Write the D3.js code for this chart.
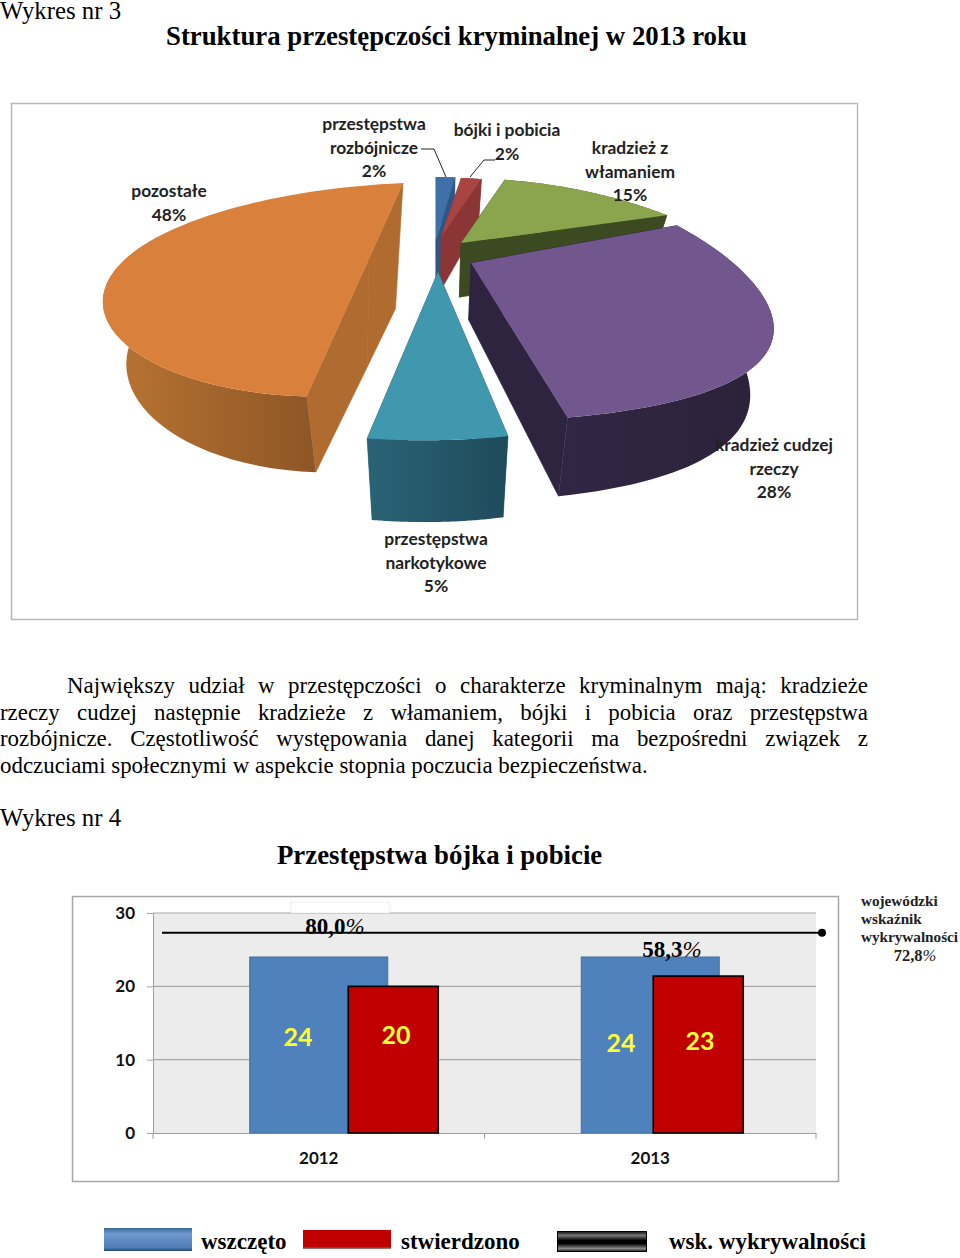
<!DOCTYPE html>
<html><head><meta charset="utf-8">
<style>html,body{margin:0;padding:0;background:#fff}svg{display:block}</style>
<script src="https://cdn.jsdelivr.net/npm/d3@7/dist/d3.min.js"></script>
</head><body><script>
// ---- data ----
const sliceNames = [["przestępstwa","rozbójnicze","2%"],["bójki i pobicia","2%"],["kradzież z","włamaniem","15%"],["kradzież cudzej","rzeczy","28%"],["przestępstwa","narkotykowe","5%"],["pozostałe","48%"]];
const sliceValues = [2,2,15,28,5,48];
const topColors = ["#3f70a8","#a94442","#8aa54e","#72578f","#4098af","#d9813c"];
const wallCut   = ["#2f5785","#8a3636","#3c4a22","#2e2440","#2a6579","#b06b30"];
const wallLeft  = ["#2f5785","#8a3636","#3c4a22","#312745","#2a6376","#bb7533"];
const wallRight = ["#2f5785","#8a3636","#3c4a22","#2b2138","#1f4b5b","#8d5626"];
const categories = ["2012","2013"];
const wszczeto = [24,24];
const stwierdzono = [20,21.4];
const wszczetoLabels = ["24","24"];
const stwierdzonoLabels = ["20","23"];
const wykrywalnosc = ["80,0","58,3"];
const wojewodzki = 27.3;
const yTicks = [0,10,20,30];
const bodyLines = [
 "Największy udział w przestępczości o charakterze kryminalnym mają: kradzieże",
 "rzeczy cudzej następnie kradzieże z włamaniem, bójki i pobicia oraz przestępstwa",
 "rozbójnicze. Częstotliwość występowania danej kategorii ma bezpośredni związek z",
 "odczuciami społecznymi w aspekcie stopnia poczucia bezpieczeństwa."];
const legendNames = ["wszczęto","stwierdzono","wsk. wykrywalności"];

// ---- layout ----
const W=960,H=1258;
const SERIF='"Liberation Serif",serif', SANS='Lato,Carlito,sans-serif';
const svg=d3.select("body").append("svg").attr("width",W).attr("height",H).attr("viewBox",`0 0 ${W} ${H}`);
const defs=svg.append("defs");
function grad(id,stops,x2=1,y2=0){const g=defs.append("linearGradient").attr("id",id).attr("x1",0).attr("y1",0).attr("x2",x2).attr("y2",y2);
 stops.forEach(([o,c])=>g.append("stop").attr("offset",o).attr("stop-color",c));return `url(#${id})`;}
function txt(s,x,y,size,opt={}){return svg.append("text").attr("x",x).attr("y",y).attr("font-family",opt.font||SERIF).attr("font-size",size)
 .attr("font-weight",opt.weight||"normal").attr("text-anchor",opt.anchor||"start").attr("fill",opt.fill||"#000").text(s);}
function pct(s,x,y,size,fill){const t=txt(s,x,y,size,{anchor:"middle",weight:"bold",fill});
 t.append("tspan").attr("font-weight","normal").attr("font-style","italic").text("%");return t;}

txt("Wykres nr 3",0,18.5,24.8);
txt("Struktura przestępczości kryminalnej w 2013 roku",166,45,26.8,{weight:"bold"});
svg.append("rect").attr("x",11.5).attr("y",103.5).attr("width",846).attr("height",516).attr("fill","#fff").attr("stroke","#b8b8b8").attr("stroke-width",1.5);

// ---- pie ----
const pieAngles=d3.pie().sort(null).value(d=>d)(sliceValues);
//            blue red  green purple teal orange
const cxs   =[436,441,461,471,438,383.6];
const cys   =[240,237,243,263,272,258.8];
const apexX =[436,441,461,471,438,369];
const aa    =[1,1.06,1.15,1.15,1,1.178];
const bb    =[0,0,0,0,-0.0876,-0.216];
const cc    =[0,0,0,0,0,-0.0495];
const dd    =[0.7,0.66,0.72,0.97,1.03,0.842];
const pxs   =[0.5,0.5,0.5,0.5,0.5,0.2];
const tilts =[0,0,0,0,0,0.375];
const rimFrac=[1,1,1,1,1,0.6];
const VX=438;
function proj(i,t){const u=Math.sin(t),v=Math.cos(t);
 const X=228*u/(1+pxs[i]*v), Y=-116*v/(1+0.29*v);
 return [cxs[i]+aa[i]*X+bb[i]*Y, cys[i]+cc[i]*X+dd[i]*Y];}
function down(p,tilt=0){const [x,y]=p;const e=tilt*(396-y);
 return [VX+(x-VX)*0.93-e*0.125, y+57+0.14*(y-263)+e];}
const lineGen=d3.line().curve(d3.curveLinear);
const pieG=svg.append("g");
pieAngles.forEach((a,i)=>{
 const ts=d3.range(0,61).map(k=>a.startAngle+(a.endAngle-a.startAngle)*k/60);
 const rim=ts.map(t=>proj(i,t));
 const c=[apexX[i],cys[i]];
 const fillWall=grad("wall"+i,[[0,wallLeft[i]],[1,wallRight[i]]]);
 const s=rim[0],e=rim[rim.length-1],T=tilts[i];
 [s,e].forEach(p=>pieG.append("path").attr("d",lineGen([c,p,down(p,T),down(c,T)])+"Z").attr("fill",wallCut[i]).attr("stroke",wallCut[i]).attr("stroke-width",0.6));
 const wallRim=rim.slice(0,Math.round(60*rimFrac[i])+1);
 pieG.append("path").attr("d",lineGen(wallRim.concat(wallRim.map(p=>down(p)).reverse()))+"Z").attr("fill",fillWall);
 pieG.append("path").attr("d",lineGen([c].concat(rim))+"Z").attr("fill",topColors[i]);
});
// pie labels
const labelX=[374,507,630,774,436,169];
const labelY=[130,136,154,451,545,197];
sliceNames.forEach((ls,i)=>ls.forEach((l,j)=>txt(l,labelX[i],labelY[i]+j*23.5,17.4,{font:SANS,weight:"bold",anchor:"middle",fill:"#222"})));
svg.append("path").attr("d","M421 149H434L446 177").attr("fill","none").attr("stroke","#222").attr("stroke-width",1);
svg.append("path").attr("d","M495 160H484L470 177").attr("fill","none").attr("stroke","#222").attr("stroke-width",1);

// ---- body ----
const bodyY=[693,720,746,773],bodyL=[67,0,0,0],bodyR=[868,868,868,null];
bodyLines.forEach((l,i)=>{const t=txt(l,bodyL[i],bodyY[i],22.9);
 if(bodyR[i]){const n=l.split(" ").length-1,len=t.node().getComputedTextLength();t.attr("word-spacing",(bodyR[i]-bodyL[i]-len)/n);}});
txt("Wykres nr 4",0,826,24.8);
txt("Przestępstwa bójka i pobicie",277,864,26.8,{weight:"bold"});

// ---- bars ----
svg.append("rect").attr("x",72.5).attr("y",896.5).attr("width",766).attr("height",285).attr("fill","#fff").attr("stroke","#a6a6a6").attr("stroke-width",1.5);
const x=d3.scaleBand().domain(categories).range([153,816]);
const y=d3.scaleLinear().domain([0,30]).range([1133,913]);
svg.append("rect").attr("x",153).attr("y",y(30)).attr("width",663).attr("height",y(0)-y(30)).attr("fill","#ececec");
const axY=svg.append("g").attr("transform","translate(153,0)").call(d3.axisLeft(y).tickValues(yTicks).tickSize(6).tickPadding(12));
axY.selectAll("text").attr("font-family",SANS).attr("font-weight","bold").attr("font-size",17).attr("fill","#111");
axY.selectAll(".tick line").attr("stroke","#a0a0a0");axY.select(".domain").attr("stroke","#a0a0a0");
svg.append("g").selectAll("line").data(yTicks.slice(1)).join("line").attr("x1",153).attr("x2",816).attr("y1",d=>y(d)).attr("y2",d=>y(d)).attr("stroke","#a6a6a6").attr("stroke-width",1.2);
const axX=svg.append("g").attr("transform",`translate(0,${y(0)})`).call(d3.axisBottom(x).tickSize(0).tickPadding(19));
axX.selectAll("text").attr("font-family",SANS).attr("font-weight","bold").attr("font-size",17).attr("fill","#111");
axX.select(".domain").attr("stroke","#a0a0a0").attr("stroke-width",1.2);
svg.append("g").selectAll("line").data([153,484.5,816]).join("line").attr("x1",d=>d).attr("x2",d=>d).attr("y1",y(0)).attr("y2",y(0)+6).attr("stroke","#a0a0a0");
const blueW=138,redW=90,redOff=[74.5,48];
const cx=c=>x(c)+x.bandwidth()/2;
svg.append("g").selectAll("rect").data(categories).join("rect").attr("x",c=>cx(c)-blueW/2).attr("y",(c,i)=>y(wszczeto[i])).attr("width",blueW).attr("height",(c,i)=>y(0)-y(wszczeto[i])).attr("fill","#4f81bd").attr("stroke","#41719c").attr("stroke-width",1);
svg.append("g").selectAll("rect").data(categories).join("rect").attr("x",(c,i)=>cx(c)+redOff[i]-redW/2).attr("y",(c,i)=>y(stwierdzono[i])).attr("width",redW).attr("height",(c,i)=>y(0)-y(stwierdzono[i])).attr("fill","#c00000").attr("stroke","#000").attr("stroke-width",1.6);
svg.append("rect").attr("x",291).attr("y",902).attr("width",99).attr("height",11).attr("fill","#fff").attr("stroke","#ddd").attr("stroke-dasharray","1 1");
const pctX=[335,672],pctY=[934,957];
wykrywalnosc.forEach((s,i)=>pct(s,pctX[i],pctY[i],23));
svg.append("line").attr("x1",162).attr("x2",822).attr("y1",y(wojewodzki)).attr("y2",y(wojewodzki)).attr("stroke","#000").attr("stroke-width",2);
svg.append("circle").attr("cx",822).attr("cy",y(wojewodzki)).attr("r",4).attr("fill","#000");
const blX=[298,621],blY=[1046,1052],rlX=[396,700],rlY=[1044,1050];
wszczetoLabels.forEach((s,i)=>txt(s,blX[i],blY[i],25,{font:SANS,weight:"bold",anchor:"middle",fill:"#ffff33"}));
stwierdzonoLabels.forEach((s,i)=>txt(s,rlX[i],rlY[i],25,{font:SANS,weight:"bold",anchor:"middle",fill:"#ffff33"}));
txt("wojewódzki",861,906,15.2,{weight:"bold",fill:"#222"});
txt("wskaźnik",861,924,15.2,{weight:"bold",fill:"#222"});
txt("wykrywalności",861,942,15.2,{weight:"bold",fill:"#222"});
pct("72,8",915,961,16.5,"#222");

// ---- legend ----
const lgB=grad("lgB",[[0,"#3a6597"],[0.25,"#6f9bd0"],[0.6,"#5c88bf"],[0.85,"#4f7db4"],[1,"#234a75"]],0,1);
const lgR=grad("lgR",[[0,"#c00000"],[0.88,"#c00000"],[1,"#8f8f8f"]],0,1);
const lgK=grad("lgK",[[0,"#111"],[0.2,"#777"],[0.45,"#000"],[0.6,"#000"],[0.85,"#888"],[1,"#222"]],0,1);
const lgRect=[[104,1228,88,23,lgB,"none"],[303,1230,88,19,lgR,"none"],[557.5,1231.5,89,20,lgK,"#000"]];
svg.append("g").selectAll("rect").data(lgRect).join("rect").attr("x",d=>d[0]).attr("y",d=>d[1]).attr("width",d=>d[2]).attr("height",d=>d[3]).attr("fill",d=>d[4]).attr("stroke",d=>d[5]);
const legX=[201,401,669];
legendNames.forEach((s,i)=>txt(s,legX[i],1249,23,{weight:"bold"}));
</script></body></html>
